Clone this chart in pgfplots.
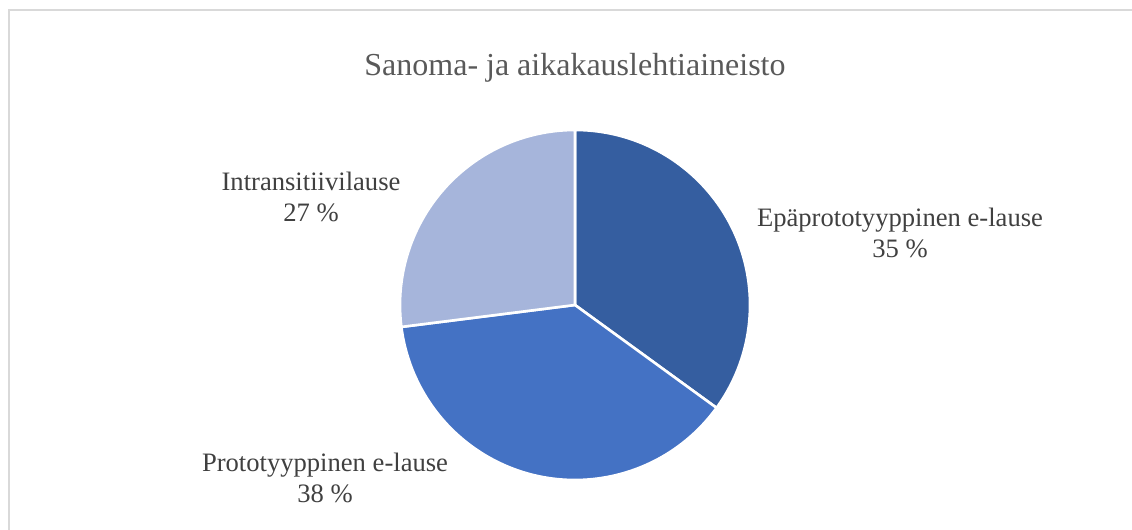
\documentclass[border=0pt]{standalone}
\usepackage{fontspec}
\setmainfont{Liberation Serif}
\usepackage{pgfplots}
\usepackage{pgfplotstable}
\pgfplotsset{compat=1.18}
\definecolor{sliceA}{RGB}{53,94,160}
\definecolor{sliceB}{RGB}{68,114,196}
\definecolor{sliceC}{RGB}{166,181,219}
\definecolor{titlegray}{RGB}{89,89,89}
\definecolor{labgray}{RGB}{64,64,64}
\definecolor{framegray}{RGB}{217,217,217}
\pgfplotstableread{
label value
Epaprototyyppinen 35
Prototyyppinen 38
Intransitiivilause 27
}\piedata
\pgfplotstablegetelem{0}{value}\of\piedata \let\va\pgfplotsretval
\pgfplotstablegetelem{1}{value}\of\piedata \let\vb\pgfplotsretval
\pgfplotstablegetelem{2}{value}\of\piedata \let\vc\pgfplotsretval
\pgfmathsetmacro\aA{90}
\pgfmathsetmacro\aB{90-3.6*\va}
\pgfmathsetmacro\aC{\aB-3.6*\vb}
\pgfmathsetmacro\aD{\aC-3.6*\vc}
\begin{document}
\begin{tikzpicture}
\useasboundingbox (0,0) rectangle (566pt,265pt);
\begin{axis}[at={(0,0)}, anchor=south west, scale only axis,
  width=566pt, height=265pt, xmin=0, xmax=1132, ymin=0, ymax=530,
  hide axis, clip=false]
\draw[framegray, line width=1pt] (axis cs:9,0) -- (axis cs:9,520) -- (axis cs:1132,520);
\fill[sliceA, draw=white, line width=1.3pt, line join=round] (axis cs:575,225) -- ++(\aA:87.5pt) arc[start angle=\aA, end angle=\aB, radius=87.5pt] -- cycle;
\fill[sliceB, draw=white, line width=1.3pt, line join=round] (axis cs:575,225) -- ++(\aB:87.5pt) arc[start angle=\aB, end angle=\aC, radius=87.5pt] -- cycle;
\fill[sliceC, draw=white, line width=1.3pt, line join=round] (axis cs:575,225) -- ++(\aC:87.5pt) arc[start angle=\aC, end angle=\aD, radius=87.5pt] -- cycle;
\node[titlegray, font=\fontsize{16}{19}\selectfont] at (axis cs:575,462) {Sanoma- ja aikakauslehtiaineisto};
\node[labgray, align=center, font=\fontsize{13.3}{15.5}\selectfont] at (axis cs:900,297) {Epäprototyyppinen e-lause\\\va~\%};
\node[labgray, align=center, font=\fontsize{13.3}{15.5}\selectfont] at (axis cs:325,52) {Prototyyppinen e-lause\\\vb~\%};
\node[labgray, align=center, font=\fontsize{13.3}{15.5}\selectfont] at (axis cs:311,333) {Intransitiivilause\\\vc~\%};
\end{axis}
\end{tikzpicture}
\end{document}
